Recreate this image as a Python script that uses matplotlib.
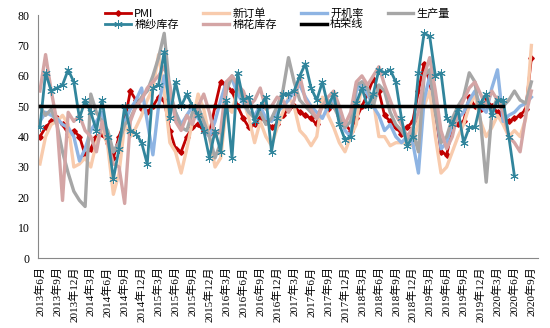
import matplotlib
matplotlib.use("Agg")
import matplotlib.pyplot as plt
import numpy as np

plt.rcParams['font.family'] = ['Noto Sans CJK SC', 'DejaVu Sans']

# monthly, 2013-06 .. 2020-09
months = [f"{2013 + (5 + k) // 12}年{(5 + k) % 12 + 1}月" for k in range(88)]

pmi = [40, 43, 45, 46, 44, 41, 42, 40, 34, 36, 40, 41, 38, 33, 40, 45, 55, 52, 49, 48,
       50, 53, 52, 42, 36, 35, 40, 43, 44, 42, 41, 50, 58, 57, 55, 50, 46, 43, 44, 46,
       45, 43, 44, 47, 49, 50, 48, 47, 46, 44, 52, 49, 50, 47, 44, 42, 46, 50, 54, 59,
       55, 47, 45, 43, 41, 43, 45, 55, 64, 58, 48, 35, 34, 43, 44, 45, 53, 50, 49, 52,
       50, 48, 46, 45, 46, 47, 49, 66]
new_orders = [31, 40, 44, 45, 47, 44, 30, 31, 33, 30, 38, 43, 37, 21, 28, 44, 40, 43, 47, 52,
              56, 67, 55, 38, 35, 28, 36, 45, 54, 49, 40, 30, 33, 50, 48, 56, 52, 46, 38, 45,
              40, 37, 43, 48, 53, 50, 42, 40, 37, 40, 53, 47, 43, 38, 35, 40, 44, 58, 55, 52,
              40, 40, 37, 38, 38, 38, 37, 45, 50, 55, 40, 28, 30, 35, 40, 44, 50, 54, 45, 40,
              43, 47, 44, 40, 42, 40, 46, 70]
run_rate = [45, 48, 47, 46, 44, 43, 40, 32, 36, 42, 45, 48, 40, 35, 38, 45, 49, 52, 56, 45,
            34, 50, 60, 52, 48, 44, 47, 50, 46, 43, 40, 45, 52, 58, 59, 54, 51, 48, 47, 50,
            46, 45, 48, 50, 52, 55, 57, 53, 50, 48, 46, 50, 52, 48, 42, 40, 55, 58, 54, 50,
            47, 42, 44, 40, 38, 40, 38, 28, 52, 60, 50, 36, 38, 44, 46, 48, 52, 55, 50, 48,
            56, 62, 45, 47, 48, 50, 51, 53]
output = [50, 47, 49, 44, 35, 28, 22, 19, 17, 54, 48, 45, 42, 35, 38, 44, 46, 50, 53, 55,
          60, 66, 74, 55, 48, 43, 42, 48, 50, 45, 40, 33, 38, 55, 60, 57, 52, 48, 46, 48,
          44, 46, 50, 55, 66, 58, 52, 50, 48, 46, 50, 52, 50, 46, 43, 45, 57, 58, 56, 50,
          57, 55, 48, 44, 42, 39, 42, 35, 60, 62, 48, 38, 40, 46, 50, 53, 61, 58, 45, 25,
          48, 53, 50, 52, 55, 52, 51, 58]
yarn_stock = [43, 61, 55, 56, 57, 62, 58, 46, 52, 48, 42, 52, 40, 26, 36, 50, 42, 41, 38, 31,
              56, 57, 68, 46, 58, 50, 54, 50, 47, 42, 33, 42, 35, 52, 33, 61, 52, 53, 45, 50,
              53, 35, 46, 54, 54, 55, 60, 64, 56, 52, 58, 50, 54, 44, 39, 40, 51, 56, 50, 54,
              62, 61, 62, 58, 46, 37, 40, 61, 74, 73, 60, 61, 46, 44, 49, 38, 43, 43, 51, 54,
              47, 52, 52, 40, 27]
cotton_stock = [55, 67, 55, 45, 19, 48, 45, 47, 42, 40, 35, 45, 38, 31, 30, 18, 45, 50, 52, 56,
                58, 60, 63, 57, 45, 42, 47, 44, 50, 54, 48, 40, 42, 58, 60, 57, 55, 50, 52, 56,
                49, 50, 53, 52, 48, 52, 60, 52, 49, 46, 50, 53, 55, 50, 44, 48, 58, 60, 57, 60,
                63, 57, 52, 47, 44, 40, 43, 48, 60, 66, 55, 42, 36, 40, 48, 52, 56, 58, 54, 50,
                55, 52, 48, 40, 38, 35, 47, 55]
boom_line = [50] * 83

fig = plt.figure(figsize=(5.5, 3.28), dpi=100)
ax = fig.add_axes([0.069, 0.213, 0.909, 0.741])

x = np.arange(len(months))
l_pmi, = ax.plot(x[:len(pmi)], pmi, color='#C00000', lw=2.0, marker='D', ms=2.8, zorder=2)
l_new, = ax.plot(x[:len(new_orders)], new_orders, color='#F8CBAD', lw=2.4, zorder=2)
l_run, = ax.plot(x[:len(run_rate)], run_rate, color='#8EB4E3', lw=2.4, zorder=2)
l_out, = ax.plot(x[:len(output)], output, color='#A6A6A6', lw=2.4, zorder=2)
l_yarn, = ax.plot(x[:len(yarn_stock)], yarn_stock, color='#31859C', lw=2.0,
                  marker=(6, 2, 0), ms=6, mew=0.7, zorder=3)
l_cot, = ax.plot(x[:len(cotton_stock)], cotton_stock, color='#D4A5A5', lw=2.4, zorder=2)
l_boom, = ax.plot(x[:len(boom_line)], boom_line, color='black', lw=2.5, zorder=4)

ax.set_xlim(-0.35, 88.15)
ax.set_ylim(0, 80)
ax.set_yticks(range(0, 81, 10))
ax.set_xticks(x[::3])
ax.set_xticklabels(months[::3], rotation=90, fontsize=8,
                   family=['Liberation Serif', 'Noto Sans CJK SC'])
for t in ax.get_yticklabels():
    t.set_family('Liberation Serif')
    t.set_fontsize(8.5)
ax.tick_params(length=0, pad=6)
for s in ['top', 'right']:
    ax.spines[s].set_visible(False)
for s in ['left', 'bottom']:
    ax.spines[s].set_color('#888888')

handles = [l_pmi, l_yarn, l_new, l_cot, l_run, l_boom, l_out]
labels = ['PMI', '棉纱库存', '新订单', '棉花库存', '开机率', '枯荣线', '生产量']
fig.legend(handles, labels, loc='upper center', bbox_to_anchor=(0.505, 1.005), ncol=4,
           frameon=False, fontsize=8, handlelength=2.3, columnspacing=2.2,
           handletextpad=0.3, labelspacing=0.05)

fig.savefig('out.png', dpi=100)
